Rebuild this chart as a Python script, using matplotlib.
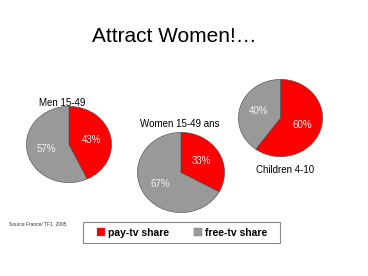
import matplotlib
matplotlib.use("Agg")
import matplotlib.pyplot as plt
from matplotlib.patches import Patch, Rectangle

plt.rcParams['font.family'] = ['Liberation Sans', 'DejaVu Sans']

groups = ["Men 15-49", "Women 15-49 ans", "Children 4-10"]
pay_tv = [43, 33, 60]
free_tv = [57, 67, 40]
series_names = ["pay-tv share", "free-tv share"]
colors = ["#FF0000", "#999999"]

W, H = 368, 276
fig = plt.figure(figsize=(W / 100, H / 100), dpi=100)
fig.patch.set_facecolor("white")

def px_axes(x0, y0, x1, y1):
    return fig.add_axes([x0 / W, 1 - y1 / H, (x1 - x0) / W, (y1 - y0) / H])

# pie bounding boxes (pixels) and group label positions
boxes = [(26, 106, 112, 183), (137, 132, 225, 213), (238, 79, 323, 157)]
label_pos = [(62, 103), (180, 124), (285, 170)]

for name, p, f, box, lp in zip(groups, pay_tv, free_tv, boxes, label_pos):
    ax = px_axes(*box)
    ax.pie([p, f], colors=colors, startangle=90, counterclock=False,
           autopct=lambda v: f"{v:.0f}%", pctdistance=0.55,
           wedgeprops=dict(edgecolor="#444444", linewidth=0.4),
           textprops=dict(color="#f2f2f2", fontsize=7))
    ax.set_aspect("auto")
    ax.set_xlim(-1.01, 1.01)
    ax.set_ylim(-1.01, 1.01)
    ax.axis("off")
    fig.text(lp[0] / W, 1 - lp[1] / H, name, ha="center", va="center",
             fontsize=7, color="black")

fig.text(174 / W, 1 - 36 / H, "Attract Women!…", ha="center", va="center",
         fontsize=15, color="black")

fig.text(9 / W, 1 - 225 / H, "Source France/ TF1  2005", ha="left", va="center",
         fontsize=3.5, color="#333333")

# legend frame
fig.add_artist(Rectangle((83 / W, 1 - 243 / H), (280 - 83) / W, (243 - 222) / H,
                         transform=fig.transFigure, facecolor="white",
                         edgecolor="#888888", linewidth=0.8))
handles = [Patch(facecolor=c, edgecolor="#777777", linewidth=0.3) for c in colors]
leg = fig.legend(handles, series_names, loc="center",
                 bbox_to_anchor=(182.5 / W, 1 - 232.5 / H),
                 ncol=2, frameon=False,
                 prop=dict(weight="bold", size=7.5), handlelength=0.75,
                 handleheight=0.75, handletextpad=0.3, columnspacing=2.4,
                 borderpad=0.0, borderaxespad=0)

fig.savefig("out.png", dpi=100, facecolor="white")
